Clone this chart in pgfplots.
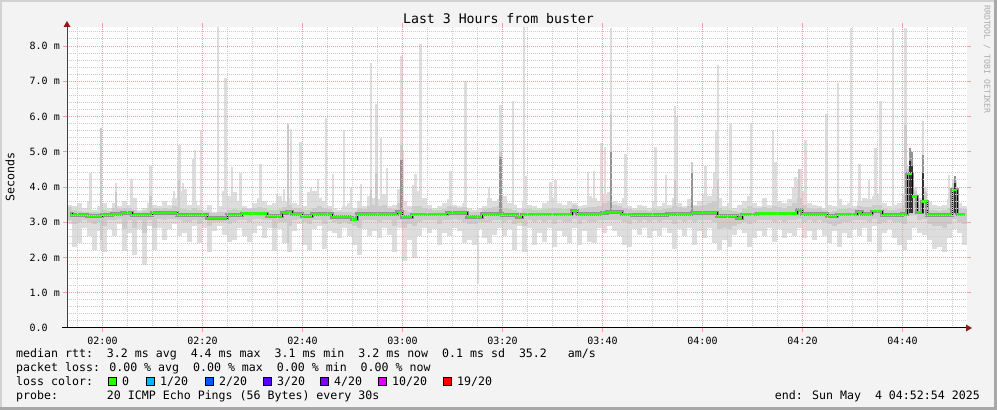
\documentclass[border=0pt]{standalone}
\usepackage{fontspec}
\setmainfont{DejaVu Sans Mono}
\setmonofont{DejaVu Sans Mono}
\usepackage{pgfplots}
\usepackage{pgfplotstable}
\pgfplotsset{compat=1.18}

\definecolor{canvasbg}{HTML}{F3F3F3}
\definecolor{bordlight}{HTML}{D2D2D2}
\definecolor{borddark}{HTML}{A8A8A8}
\definecolor{smokeL}{HTML}{DDDDDD}
\definecolor{smokeM}{HTML}{CBCBCB}
\definecolor{smokeD}{HTML}{939393}
\definecolor{smokeK}{HTML}{333333}
\definecolor{medgreen}{HTML}{26FF00}
\definecolor{majgrid}{HTML}{EAA2A2}
\definecolor{mingrid}{HTML}{CCCCCC}
\definecolor{arrowred}{HTML}{8B1A1A}
\definecolor{wmark}{HTML}{ABABAB}
\definecolor{lc0}{HTML}{26FF00}
\definecolor{lc1}{HTML}{00B8FF}
\definecolor{lc2}{HTML}{0059FF}
\definecolor{lc3}{HTML}{5E00FF}
\definecolor{lc4}{HTML}{7E00FF}
\definecolor{lc10}{HTML}{DD00FF}
\definecolor{lc19}{HTML}{FF0000}

\pgfplotstableread{
t med lo hi mlo mhi
113.4 3.24 2.95 3.50 3.05 3.42
114.4 3.20 2.30 3.45 2.95 3.35
115.4 3.20 2.40 3.55 3.00 3.32
116.4 3.20 2.85 3.40 3.05 3.30
117.4 3.17 2.62 3.60 3.02 3.30
118.4 3.17 2.20 3.35 2.95 3.28
119.4 3.17 2.75 3.45 3.00 3.30
120.4 3.21 2.16 3.55 2.90 3.35
121.4 3.21 2.80 3.40 3.05 3.32
122.4 3.24 2.60 3.55 3.05 3.40
123.4 3.24 2.95 3.45 3.10 3.38
124.4 3.27 2.18 3.60 2.80 3.40
125.4 3.27 2.70 3.50 3.05 3.40
126.4 3.20 2.08 3.70 2.85 3.35
127.4 3.20 2.80 3.35 3.05 3.30
128.4 3.20 1.78 3.40 2.70 3.32
129.4 3.20 2.90 3.55 3.05 3.40
130.4 3.27 2.22 3.50 2.85 3.40
131.4 3.27 2.85 3.45 3.10 3.38
132.4 3.27 2.50 3.60 3.05 3.40
133.4 3.27 2.80 3.50 3.10 3.38
134.4 3.27 2.95 3.70 3.10 3.45
135.4 3.20 2.60 3.90 3.05 3.40
136.4 3.20 2.70 3.95 3.00 3.38
137.4 3.20 2.45 3.50 3.00 3.35
138.4 3.20 2.90 3.60 3.05 3.40
139.4 3.20 2.40 3.50 2.95 3.35
140.4 3.20 2.85 3.35 3.05 3.30
141.4 3.12 2.16 3.50 2.90 3.28
142.4 3.12 2.75 3.30 3.00 3.25
143.4 3.12 2.90 3.45 3.00 3.28
144.4 3.12 2.65 3.90 3.00 3.30
145.4 3.20 2.45 3.75 2.95 3.35
146.4 3.20 2.50 3.85 3.00 3.38
147.4 3.20 2.85 3.60 3.05 3.35
148.4 3.25 2.60 3.45 3.05 3.40
149.4 3.25 2.45 3.40 3.00 3.38
150.4 3.25 2.70 3.55 3.10 3.40
151.4 3.25 2.90 3.70 3.10 3.42
152.4 3.25 2.55 3.60 3.05 3.40
153.4 3.18 2.85 3.50 3.05 3.35
154.4 3.18 2.18 3.55 2.85 3.35
155.4 3.18 2.80 3.75 3.00 3.38
156.4 3.27 2.40 3.60 3.00 3.42
157.4 3.30 2.16 3.70 2.90 3.50
158.4 3.23 2.75 3.55 3.05 3.40
159.4 3.23 2.95 3.50 3.10 3.40
160.4 3.18 2.35 3.45 3.00 3.35
161.4 3.18 2.20 3.85 2.95 3.35
162.4 3.23 2.80 3.90 3.05 3.40
163.4 3.23 2.90 3.70 3.05 3.45
164.4 3.23 2.25 3.60 2.95 3.40
165.4 3.23 2.75 3.45 3.05 3.38
166.4 3.15 2.70 3.40 3.00 3.30
167.4 3.15 2.55 3.35 2.95 3.28
168.4 3.15 2.85 3.45 3.00 3.30
169.4 3.15 2.60 3.55 2.95 3.30
170.4 3.08 2.35 3.40 2.90 3.25
171.4 3.24 2.08 3.60 2.85 3.40
172.4 3.24 2.80 3.45 3.05 3.38
173.4 3.24 2.60 3.75 3.05 3.45
174.4 3.24 2.75 3.70 3.05 3.48
175.4 3.24 2.55 3.65 3.00 3.45
176.4 3.24 2.85 3.80 3.05 3.50
177.4 3.24 2.65 3.45 3.05 3.40
178.4 3.24 2.15 3.50 2.90 3.38
179.4 3.29 2.85 3.95 3.05 3.55
180.4 3.15 1.89 3.60 2.85 3.35
181.4 3.15 2.50 3.45 2.95 3.30
182.4 3.22 2.00 4.05 2.90 3.45
183.4 3.22 2.60 3.90 3.00 3.45
184.4 3.22 2.85 3.70 3.05 3.40
185.4 3.22 2.70 3.50 3.05 3.38
186.4 3.22 2.80 3.40 3.05 3.35
187.4 3.22 2.35 3.45 2.95 3.35
188.4 3.22 2.70 3.55 3.05 3.38
189.4 3.27 2.60 3.65 3.05 3.45
190.4 3.27 2.85 3.50 3.10 3.42
191.4 3.27 2.75 3.45 3.05 3.40
192.4 3.27 2.40 3.55 3.00 3.42
193.4 3.15 2.50 3.40 2.95 3.30
194.4 3.15 2.35 3.35 2.95 3.28
195.4 3.15 2.80 3.40 3.00 3.30
196.4 3.24 2.55 3.45 3.00 3.38
197.4 3.24 2.40 3.70 3.00 3.40
198.4 3.24 2.65 3.60 3.05 3.42
199.4 3.24 2.85 3.65 3.05 3.45
200.4 3.20 2.60 3.75 3.00 3.40
201.4 3.20 2.80 3.55 3.05 3.38
202.4 3.20 2.20 3.50 2.95 3.35
203.4 3.15 2.90 3.40 3.00 3.30
204.4 3.22 2.16 3.60 2.90 3.38
205.4 3.22 2.85 3.50 3.05 3.38
206.4 3.22 2.35 3.45 3.00 3.35
207.4 3.22 2.70 3.40 3.05 3.35
208.4 3.22 2.45 3.55 3.00 3.38
209.4 3.22 2.85 3.60 3.05 3.40
210.4 3.22 2.30 3.70 2.95 3.40
211.4 3.22 2.75 3.55 3.05 3.40
212.4 3.22 2.60 3.50 3.00 3.38
213.4 3.22 2.40 3.60 3.00 3.40
214.4 3.32 2.85 3.55 3.10 3.48
215.4 3.24 2.35 3.45 2.95 3.38
216.4 3.24 2.75 3.50 3.05 3.40
217.4 3.24 2.45 3.75 3.00 3.42
218.4 3.24 2.40 3.70 3.00 3.42
219.4 3.24 2.85 3.60 3.05 3.45
220.4 3.27 2.70 3.80 3.05 3.55
221.4 3.29 2.90 3.85 3.05 3.60
222.4 3.29 2.75 3.60 3.05 3.50
223.4 3.29 2.60 3.55 3.05 3.45
224.4 3.22 2.35 3.70 3.00 3.40
225.4 3.22 2.30 3.45 2.95 3.38
226.4 3.20 2.80 3.40 3.05 3.35
227.4 3.20 2.65 3.50 3.00 3.35
228.4 3.20 2.85 3.45 3.05 3.35
229.4 3.20 2.55 3.40 3.00 3.32
230.4 3.20 2.75 3.60 3.05 3.38
231.4 3.20 2.60 3.45 3.00 3.35
232.4 3.20 2.85 3.55 3.05 3.38
233.4 3.24 2.70 3.50 3.05 3.40
234.4 3.24 2.25 3.70 2.95 3.45
235.4 3.24 2.80 3.55 3.05 3.42
236.4 3.24 2.60 3.45 3.00 3.40
237.4 3.24 2.85 3.65 3.05 3.45
238.4 3.27 2.35 3.50 3.00 3.45
239.4 3.27 2.75 3.60 3.05 3.45
240.4 3.27 2.55 3.80 3.05 3.50
241.4 3.27 2.85 3.75 3.05 3.55
242.4 3.27 2.40 3.95 3.00 3.60
243.4 3.18 2.20 3.70 2.80 3.40
244.4 3.18 2.50 3.45 2.85 3.35
245.4 3.18 2.30 3.55 2.80 3.35
246.4 3.18 2.65 3.40 2.90 3.32
247.4 3.12 2.80 3.50 2.95 3.30
248.4 3.22 2.70 3.60 3.00 3.38
249.4 3.22 2.30 3.75 2.95 3.45
250.4 3.22 2.55 3.55 3.00 3.40
251.4 3.25 2.75 3.45 3.05 3.40
252.4 3.25 2.60 3.70 3.05 3.42
253.4 3.25 2.85 3.50 3.05 3.40
254.4 3.25 2.45 3.90 3.00 3.45
255.4 3.25 2.80 3.60 3.05 3.42
256.4 3.25 2.55 3.55 3.00 3.40
257.4 3.25 2.70 3.65 3.05 3.45
258.4 3.25 2.60 4.00 3.05 3.55
259.4 3.34 2.85 4.20 3.10 3.70
260.4 3.24 2.55 3.90 3.00 3.50
261.4 3.24 2.75 3.55 3.05 3.40
262.4 3.24 2.50 3.50 3.00 3.38
263.4 3.24 2.80 3.45 3.05 3.40
264.4 3.24 2.60 3.40 3.00 3.35
265.4 3.18 2.40 3.50 2.95 3.30
266.4 3.18 2.75 3.45 2.90 3.32
267.4 3.22 2.30 3.65 2.95 3.38
268.4 3.22 2.70 3.50 3.00 3.38
269.4 3.22 2.55 3.55 3.00 3.40
270.4 3.22 2.80 3.45 3.05 3.38
271.4 3.29 2.60 3.60 3.05 3.45
272.4 3.24 2.85 3.70 3.05 3.42
273.4 3.24 2.45 3.65 3.00 3.42
274.4 3.31 2.90 3.75 3.10 3.50
275.4 3.31 2.15 3.80 2.95 3.50
276.4 3.20 2.70 3.55 3.00 3.38
277.4 3.20 2.80 3.45 3.05 3.35
278.4 3.20 2.55 3.50 3.00 3.35
279.4 3.20 2.35 3.55 3.00 3.38
280.4 3.24 2.20 3.80 2.95 3.50
281.4 4.38 2.50 4.60 3.20 4.50
282.4 3.73 2.85 4.00 3.20 3.90
283.4 3.28 2.70 3.70 3.05 3.50
284.4 3.59 2.65 4.00 3.10 3.85
285.4 3.20 2.50 3.60 2.95 3.35
286.4 3.20 2.25 3.50 2.90 3.35
287.4 3.20 2.30 3.45 2.90 3.32
288.4 3.20 2.15 3.50 2.85 3.35
289.4 3.20 2.55 3.65 2.95 3.40
290.4 3.91 2.80 4.20 3.10 4.10
291.4 3.22 2.70 3.55 3.00 3.40
292.4 3.22 2.35 3.45 2.95 3.38
}\basedata

\pgfplotstableread{
t lo hi
117.6 3.3 4.40
119.7 2.2 5.67
122.7 3.3 4.11
125.8 3.3 4.24
129.6 3.3 4.61
134.3 3.3 3.90
135.1 3.3 4.71
135.4 3.3 5.20
136.1 3.3 4.10
138.2 3.3 4.80
138.5 3.3 5.04
139.7 3.3 5.61
143.1 3.3 8.54
144.6 3.3 7.09
145.9 3.3 4.57
147.6 3.3 4.40
151.6 3.3 4.66
154.9 3.3 3.81
156.3 3.3 3.95
157.1 3.3 5.80
157.7 3.3 5.65
159.6 3.3 5.28
161.7 3.3 3.97
163.1 3.3 4.24
164.7 3.3 5.96
166.1 3.3 4.38
168.3 3.3 5.63
169.7 3.3 3.98
171.3 2.08 3.0
171.7 3.3 4.08
173.7 3.3 7.52
174.8 3.3 6.36
175.7 3.3 5.39
176.9 3.3 4.54
179.8 3.3 7.72
180.1 3.3 5.04
182.6 2.02 4.38
183.6 3.3 8.05
189.6 3.3 4.45
192.6 3.3 7.00
195.1 1.26 3.0
197.3 3.3 3.98
199.6 3.3 6.33
202.1 3.3 6.43
204.3 2.2 8.54
204.7 3.3 4.30
209.6 3.3 4.14
210.6 3.3 4.19
217.1 3.3 4.43
218.3 3.3 4.45
219.8 3.3 5.26
220.5 3.3 5.13
221.7 3.3 8.51
224.6 3.3 4.95
230.6 3.3 5.13
232.7 3.3 4.35
234.5 3.3 6.30
234.8 3.3 6.00
237.9 3.3 4.71
240.6 3.3 4.59
242.3 3.3 4.43
242.7 3.3 5.63
243.1 3.3 7.45
245.6 3.3 5.82
249.7 3.3 5.82
254.1 3.3 5.63
254.6 3.3 4.71
258.6 3.3 4.28
259.6 3.3 4.52
260.6 3.3 5.32
264.8 3.3 6.08
267.1 3.3 6.95
269.7 3.3 8.51
271.4 3.3 4.66
273.3 3.3 4.19
274.6 3.3 5.11
275.6 3.3 6.44
278.1 3.3 8.51
280.6 2.3 8.51
284.1 3.3 5.86
289.3 3.3 4.33
}\spikesL

\pgfplotstableread{
t lo hi
119.7 2.5 5.67
122.7 3.3 3.85
129.6 3.3 3.75
135.3 3.3 4.20
157.1 2.4 5.80
173.7 3.3 3.95
174.8 3.3 4.40
179.8 3.3 5.20
199.6 3.3 5.00
221.7 3.3 6.08
234.5 3.3 4.20
237.9 3.3 4.71
243.1 3.3 4.20
259.3 3.3 4.50
280.6 3.0 5.75
284.1 3.2 4.90
}\spikesM

\pgfplotstableread{
t lo hi
179.8 3.3 4.76
199.6 3.3 4.85
221.7 3.3 5.00
237.9 3.3 4.40
281.5 3.3 5.10
281.9 3.3 5.00
284.1 3.3 4.90
290.5 3.3 4.30
}\spikesD

\pgfplotstableread{
t lo hi
281.5 3.25 4.75
281.9 3.25 4.60
284.1 3.25 4.40
290.5 3.25 4.10
}\spikesK

\newcommand{\tickfont}{\fontsize{10}{12}\selectfont}
\newcommand{\legfont}{\fontsize{11.6}{14}\selectfont}

\begin{document}
\begin{tikzpicture}
\fill[canvasbg] (0pt,0pt) rectangle (997pt,410pt);
\fill[bordlight] (0pt,408pt) rectangle (997pt,410pt);
\fill[bordlight] (0pt,0pt) rectangle (2pt,410pt);
\fill[borddark] (0pt,0pt) rectangle (997pt,3pt);
\fill[borddark] (994pt,0pt) rectangle (997pt,410pt);
\fill[white] (67pt,82pt) rectangle (967pt,383pt);

\begin{axis}[
  at={(67pt,82pt)}, anchor=south west,
  scale only axis, width=900pt, height=301pt,
  xmin=112.9, xmax=292.9, ymin=0, ymax=8.54,
  axis line style={draw=none},
  axis on top,
  grid=both,
  major grid style={draw=majgrid, line width=1pt, dash pattern=on 1pt off 1pt},
  minor grid style={draw=mingrid, line width=1pt, dash pattern=on 1pt off 1pt},
  xtick={120,140,160,180,200,220,240,260,280},
  xticklabels={02:00,02:20,02:40,03:00,03:20,03:40,04:00,04:20,04:40},
  minor xtick={115,120,125,130,135,140,145,150,155,160,165,170,175,180,185,190,195,200,205,210,215,220,225,230,235,240,245,250,255,260,265,270,275,280,285,290},
  ytick={0,1,2,3,4,5,6,7,8},
  yticklabels={0.0\hphantom{~m},1.0~m,2.0~m,3.0~m,4.0~m,5.0~m,6.0~m,7.0~m,8.0~m},
  minor ytick={0.2,0.4,0.6,0.8,1.2,1.4,1.6,1.8,2.2,2.4,2.6,2.8,3.2,3.4,3.6,3.8,4.2,4.4,4.6,4.8,5.2,5.4,5.6,5.8,6.2,6.4,6.6,6.8,7.2,7.4,7.6,7.8,8.2,8.4},
  tick align=outside,
  major tick length=4pt, minor tick length=0pt,
  tick style={draw=majgrid, solid, line width=1pt},
  xticklabel style={font=\tickfont, anchor=base, inner sep=0pt, yshift=-12.5pt},
  yticklabel style={font=\tickfont, anchor=base east, inner sep=0pt, xshift=-3pt, yshift=-3.6pt},
]
% light smoke
\addplot[draw=none, mark=none, forget plot, error bars/.cd, y dir=both, y explicit, error mark=none,
  error bar style={draw=smokeL, solid, line width=5.1pt}]
  table[x=t, y=med, y error plus expr=\thisrow{hi}-\thisrow{med}, y error minus expr=\thisrow{med}-\thisrow{lo}] {\basedata};
\addplot[draw=none, mark=none, forget plot, error bars/.cd, y dir=plus, y explicit, error mark=none,
  error bar style={draw=smokeL, solid, line width=2.6pt}]
  table[x=t, y=lo, y error plus expr=\thisrow{hi}-\thisrow{lo}] {\spikesL};
% mid smoke
\addplot[draw=none, mark=none, forget plot, error bars/.cd, y dir=both, y explicit, error mark=none,
  error bar style={draw=smokeM, solid, line width=5.1pt}]
  table[x=t, y=med, y error plus expr=\thisrow{mhi}-\thisrow{med}, y error minus expr=\thisrow{med}-\thisrow{mlo}] {\basedata};
\addplot[draw=none, mark=none, forget plot, error bars/.cd, y dir=plus, y explicit, error mark=none,
  error bar style={draw=smokeM, solid, line width=2.6pt}]
  table[x=t, y=lo, y error plus expr=\thisrow{hi}-\thisrow{lo}] {\spikesM};
% dark smoke near median
\addplot[smokeD, line width=3.6pt, const plot mark mid, mark=none, forget plot] table[x=t, y=med] {\basedata};
\addplot[draw=none, mark=none, forget plot, error bars/.cd, y dir=plus, y explicit, error mark=none,
  error bar style={draw=smokeD, solid, line width=2.6pt}]
  table[x=t, y=lo, y error plus expr=\thisrow{hi}-\thisrow{lo}] {\spikesD};
\addplot[draw=none, mark=none, forget plot, error bars/.cd, y dir=plus, y explicit, error mark=none,
  error bar style={draw=smokeK, solid, line width=2.6pt}]
  table[x=t, y=lo, y error plus expr=\thisrow{hi}-\thisrow{lo}] {\spikesK};
% median
\addplot[black, line width=0.8pt, const plot mark mid, mark=none, forget plot] table[x=t, y=med] {\basedata};
\addplot[medgreen, line width=2.2pt, jump mark mid, mark=none, forget plot] table[x=t, y=med] {\basedata};
\end{axis}

% axis lines with arrows
\draw[black!75, line width=1pt] (67pt,82pt) -- (67pt,384pt);
\fill[arrowred] (63.5pt,383pt) -- (70.5pt,383pt) -- (67pt,389pt) -- cycle;
\draw[black, line width=1pt] (62pt,82pt) -- (967pt,82pt);
\fill[arrowred] (966pt,78.5pt) -- (966pt,85.5pt) -- (972pt,82pt) -- cycle;

% title, labels
\node[anchor=base, inner sep=0pt, font=\fontsize{13.2}{15}\selectfont] at (498.5pt,386pt) {Last 3 Hours from buster};
\node[rotate=90, anchor=center, inner sep=0pt, font=\legfont] at (10pt,233pt) {Seconds};
\node[rotate=-90, anchor=west, inner sep=0pt, text=wmark, font=\fontsize{8.2}{9}\selectfont] at (987pt,405pt) {RRDTOOL / TOBI OETIKER};

% legend text
\node[anchor=base west, inner sep=0pt, font=\legfont] at (16pt,52.5pt) {median rtt:~~3.2 ms avg~~4.4 ms max~~3.1 ms min~~3.2 ms now~~0.1 ms sd~~35.2~~~am/s};
\node[anchor=base west, inner sep=0pt, font=\legfont] at (16pt,38.2pt) {packet loss: 0.00 \% avg~~0.00 \% max~~0.00 \% min~~0.00 \% now};
\node[anchor=base west, inner sep=0pt, font=\legfont] at (16pt,24pt) {loss color:};
\node[anchor=base west, inner sep=0pt, font=\legfont] at (16pt,10pt) {probe:~~~~~~~20 ICMP Echo Pings (56 Bytes) every 30s};
\node[anchor=base east, inner sep=0pt, font=\legfont] at (980pt,10pt) {end: Sun May~~4 04:52:54 2025};

% loss colour boxes
\filldraw[fill=lc0, draw=black, line width=0.8pt] (108.5pt,24.5pt) rectangle (116.5pt,32.5pt);
\filldraw[fill=lc1, draw=black, line width=0.8pt] (146.5pt,24.5pt) rectangle (154.5pt,32.5pt);
\filldraw[fill=lc2, draw=black, line width=0.8pt] (205.5pt,24.5pt) rectangle (213.5pt,32.5pt);
\filldraw[fill=lc3, draw=black, line width=0.8pt] (263.5pt,24.5pt) rectangle (271.5pt,32.5pt);
\filldraw[fill=lc4, draw=black, line width=0.8pt] (320.5pt,24.5pt) rectangle (328.5pt,32.5pt);
\filldraw[fill=lc10, draw=black, line width=0.8pt] (378.5pt,24.5pt) rectangle (386.5pt,32.5pt);
\filldraw[fill=lc19, draw=black, line width=0.8pt] (443.5pt,24.5pt) rectangle (451.5pt,32.5pt);
\node[anchor=base west, inner sep=0pt, font=\legfont] at (122pt,24pt) {0};
\node[anchor=base west, inner sep=0pt, font=\legfont] at (160pt,24pt) {1/20};
\node[anchor=base west, inner sep=0pt, font=\legfont] at (219pt,24pt) {2/20};
\node[anchor=base west, inner sep=0pt, font=\legfont] at (277pt,24pt) {3/20};
\node[anchor=base west, inner sep=0pt, font=\legfont] at (334pt,24pt) {4/20};
\node[anchor=base west, inner sep=0pt, font=\legfont] at (392pt,24pt) {10/20};
\node[anchor=base west, inner sep=0pt, font=\legfont] at (457pt,24pt) {19/20};
\useasboundingbox (0pt,0pt) rectangle (997pt,410pt);
\end{tikzpicture}
\end{document}
